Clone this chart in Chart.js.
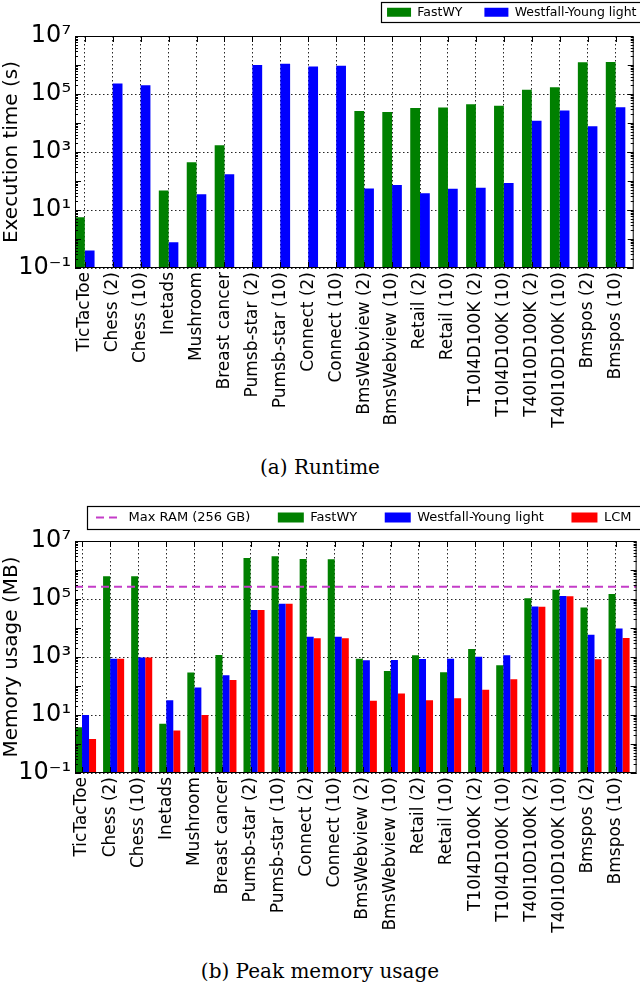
<!DOCTYPE html>
<html>
<head>
<meta charset="utf-8">
<script src="https://cdn.jsdelivr.net/npm/chart.js@4.4.1/dist/chart.umd.min.js"></script>
<style>
  body { margin: 0; background: #fff; width: 640px; height: 983px; position: relative; overflow: hidden; }
  .box { position: absolute; left: 0; width: 640px; }
  .caption { position: absolute; left: 0; width: 640px; text-align: center; font-family: "DejaVu Serif", serif; font-size: 20px; line-height: 24px; color: #000; }
</style>
</head>
<body>
<div class="box" style="top:0;height:440px"><canvas id="runtimeChart"></canvas></div>
<div class="caption" style="top:455px">(a) Runtime</div>
<div class="box" style="top:480px;height:460px"><canvas id="memoryChart"></canvas></div>
<div class="caption" style="top:959px">(b) Peak memory usage</div>
<script>
const categories = [
  "TicTacToe", "Chess (2)", "Chess (10)", "Inetads", "Mushroom", "Breast cancer",
  "Pumsb-star (2)", "Pumsb-star (10)", "Connect (2)", "Connect (10)",
  "BmsWebview (2)", "BmsWebview (10)", "Retail (2)", "Retail (10)",
  "T10I4D100K (2)", "T10I4D100K (10)", "T40I10D100K (2)", "T40I10D100K (10)",
  "Bmspos (2)", "Bmspos (10)"
];

// (a) runtime, seconds
const fastwyTime = [5.6, null, null, 47, 440, 1700, null, null, null, null,
  2.6e4, 2.4e4, 3.3e4, 3.4e4, 4.4e4, 3.9e4, 1.4e5, 1.7e5, 1.24e6, 1.26e6];
const wyTime = [0.4, 2.3e5, 2.0e5, 0.78, 35, 170, 1.0e6, 1.1e6, 8.9e5, 9.4e5,
  55, 73, 38, 54, 59, 86, 1.2e4, 2.7e4, 7.8e3, 3.5e4];

// (b) peak memory, MB
const fastwyMem = [3.8, 6.1e5, 6.1e5, 5.0, 295, 1170, 2.6e6, 2.96e6, 2.4e6, 2.35e6,
  870, 330, 1150, 300, 1880, 515, 1.07e5, 2.1e5, 5.1e4, 1.5e5];
const wyMem = [10, 870, 970, 32, 89, 234, 4.2e4, 6.8e4, 5000, 5000,
  770, 790, 850, 870, 1020, 1150, 5.5e4, 1.28e5, 5800, 9700];
const lcmMem = [1.5, 870, 970, 2.9, 10, 162, 4.2e4, 6.8e4, 4400, 4400,
  31, 55, 32, 38, 74, 170, 5.4e4, 1.25e5, 830, 4500];
const maxRamMB = 262144; // 256 GB

const yTickExponents = [-1, 1, 3, 5, 7];

Chart.defaults.font.family = '"DejaVu Sans", sans-serif';
Chart.defaults.color = "#000";

const supDigits = { "-": "\u207B", "0": "\u2070", "1": "\u00B9", "2": "\u00B2", "3": "\u00B3",
  "4": "\u2074", "5": "\u2075", "6": "\u2076", "7": "\u2077", "8": "\u2078", "9": "\u2079" };
function powerLabel(v) {
  const e = Math.round(Math.log10(v));
  return "10" + String(e).split("").map((c) => supDigits[c]).join("");
}

// box around the plot with inward ticks, matplotlib style
const framePlugin = {
  id: "frame",
  afterDraw(chart) {
    const { ctx, chartArea: a, scales } = chart;
    const x = scales.x, y = scales.y;
    ctx.save();
    ctx.strokeStyle = "#000";
    ctx.lineWidth = 1;
    ctx.strokeRect(a.left + 0.5, a.top + 0.5, a.right - a.left - 1, a.bottom - a.top - 1);
    ctx.beginPath();
    for (let e = -1; e < 7; e++) {
      for (let k = 1; k < 10; k++) {
        const py = Math.round(y.getPixelForValue(k * Math.pow(10, e))) + 0.5;
        const len = k === 1 ? 6 : 3;
        ctx.moveTo(a.left, py); ctx.lineTo(a.left + len, py);
        ctx.moveTo(a.right, py); ctx.lineTo(a.right - len, py);
      }
    }
    x.ticks.forEach((t) => {
      const px = Math.round(x.getPixelForValue(t.value)) + 0.5;
      ctx.moveTo(px, a.top); ctx.lineTo(px, a.top + 6);
      ctx.moveTo(px, a.bottom); ctx.lineTo(px, a.bottom - 6);
    });
    ctx.stroke();
    ctx.restore();
  }
};

// fixed legend height / offset, plus a frame round the items
const legendPlace = {
  id: "legendPlace",
  beforeLayout(chart, args, opts) {
    const lg = chart.legend;
    if (lg && !lg._fixedFit) {
      const fit = lg.fit;
      lg.fit = function () { fit.call(this); this.height = opts.height; };
      lg._fixedFit = true;
    }
  },
  afterLayout(chart, args, opts) {
    const lg = chart.legend;
    lg.left += opts.dx; lg.right += opts.dx;
    lg.top += opts.dy; lg.bottom += opts.dy;
  },
  afterDraw(chart, args, opts) {
    const hb = chart.legend.legendHitBoxes;
    if (!hb || !hb.length) return;
    const ctx = chart.ctx;
    const left = Math.round(Math.min(...hb.map((b) => b.left)) - opts.padL) + 0.5;
    const top = Math.round(Math.min(...hb.map((b) => b.top)) - opts.pad) + 0.5;
    const bottom = Math.round(Math.max(...hb.map((b) => b.top + b.height)) + opts.pad) + 0.5;
    ctx.save();
    ctx.strokeStyle = "#000";
    ctx.lineWidth = 1.2;
    ctx.strokeRect(left, top, chart.width + 10 - left, bottom - top);
    ctx.restore();
  }
};

function yAxis(title) {
  return {
    type: "logarithmic",
    min: 0.1,
    max: 1e7,
    afterBuildTicks: (s) => { s.ticks = yTickExponents.map((e) => ({ value: Math.pow(10, e) })); },
    afterFit: (s) => { s.width = 75; },
    ticks: { callback: (v) => powerLabel(v), font: { size: 24 }, color: "#000", padding: 4, autoSkip: false },
    grid: { color: "rgba(0,0,0,0.85)", drawTicks: false, lineWidth: 1 },
    border: { display: false, dash: [1.5, 2.5] },
    title: { display: true, text: title, font: { size: 20 }, color: "#000", padding: 0 }
  };
}

function xAxis(tickOffset, axisHeight) {
  return {
    type: "linear",
    min: 0,
    max: categories.length,
    offset: false,
    afterBuildTicks: (s) => { s.ticks = categories.map((c, i) => ({ value: i + tickOffset })); },
    afterFit: (s) => { s.height = axisHeight; },
    ticks: {
      autoSkip: false, minRotation: 90, maxRotation: 90, padding: 4,
      font: { size: 17 }, color: "#000",
      callback: (v, i) => categories[i]
    },
    grid: { color: "rgba(0,0,0,0.85)", drawTicks: false, offset: false, lineWidth: 1 },
    border: { display: false, dash: [1.5, 2.5] }
  };
}

// (a) Runtime
const RUN_GROUP = 0.35; // each bar is 0.35 wide, ticks sit between the two bars
new Chart(document.getElementById("runtimeChart"), {
  type: "bar",
  data: {
    datasets: [
      {
        label: "FastWY",
        data: fastwyTime.map((v, i) => ({ x: i + RUN_GROUP, y: v })),
        backgroundColor: "#008000",
        borderWidth: 0,
        categoryPercentage: 0.7,
        barPercentage: 1
      },
      {
        label: "Westfall-Young light",
        data: wyTime.map((v, i) => ({ x: i + RUN_GROUP, y: v })),
        backgroundColor: "#0000ff",
        borderWidth: 0,
        categoryPercentage: 0.7,
        barPercentage: 1
      }
    ]
  },
  options: {
    responsive: true,
    maintainAspectRatio: false,
    animation: false,
    layout: { padding: { left: 0, right: 1, top: 0, bottom: 0 } },
    scales: { x: xAxis(RUN_GROUP, 172), y: yAxis("Execution time (s)") },
    plugins: {
      tooltip: { enabled: false },
      legend: {
        position: "top",
        align: "end",
        labels: { font: { size: 12.5 }, color: "#000", boxWidth: 24, boxHeight: 9, padding: 22 }
      },
      legendPlace: { height: 36, dx: 19.5, dy: -16, padL: 6, pad: 3.75 }
    }
  },
  plugins: [framePlugin, legendPlace]
});

// (b) Peak memory usage
const MEM_GROUP = 0.375; // three bars of 0.25, ticks after the first bar
new Chart(document.getElementById("memoryChart"), {
  type: "bar",
  data: {
    datasets: [
      {
        type: "line",
        label: "Max RAM (256 GB)",
        data: [{ x: 0, y: maxRamMB }, { x: categories.length, y: maxRamMB }],
        borderColor: "#c43cc8",
        borderWidth: 2,
        borderDash: [8, 5],
        pointRadius: 0,
        pointStyle: "line",
        fill: false
      },
      {
        label: "FastWY",
        data: fastwyMem.map((v, i) => ({ x: i + MEM_GROUP, y: v })),
        backgroundColor: "#008000",
        borderWidth: 0,
        pointStyle: "rect",
        categoryPercentage: 0.75,
        barPercentage: 1
      },
      {
        label: "Westfall-Young light",
        data: wyMem.map((v, i) => ({ x: i + MEM_GROUP, y: v })),
        backgroundColor: "#0000ff",
        borderWidth: 0,
        pointStyle: "rect",
        categoryPercentage: 0.75,
        barPercentage: 1
      },
      {
        label: "LCM",
        data: lcmMem.map((v, i) => ({ x: i + MEM_GROUP, y: v })),
        backgroundColor: "#ff0000",
        borderWidth: 0,
        pointStyle: "rect",
        categoryPercentage: 0.75,
        barPercentage: 1
      }
    ]
  },
  options: {
    responsive: true,
    maintainAspectRatio: false,
    animation: false,
    layout: { padding: { left: 0, right: 1, top: 0, bottom: 0 } },
    scales: { x: xAxis(0.25, 167), y: yAxis("Memory usage (MB)") },
    plugins: {
      tooltip: { enabled: false },
      legend: {
        position: "top",
        align: "end",
        labels: {
          font: { size: 13 }, color: "#000",
          usePointStyle: true, pointStyleWidth: 26, boxHeight: 10, padding: 27.5,
          generateLabels(chart) {
            const items = Chart.defaults.plugins.legend.labels.generateLabels(chart);
            items.forEach((it) => {
              const ds = chart.data.datasets[it.datasetIndex];
              if (ds.type === "line") {
                it.pointStyle = "line";
                it.strokeStyle = ds.borderColor;
                it.lineWidth = 2;
                it.lineDash = ds.borderDash;
              } else {
                it.pointStyle = "rect";
                it.fillStyle = ds.backgroundColor;
                it.lineWidth = 0;
              }
            });
            return items;
          }
        }
      },
      legendPlace: { height: 61, dx: 20, dy: 3.5, padL: 9, pad: 5 }
    }
  },
  plugins: [framePlugin, legendPlace]
});
</script>
</body>
</html>
